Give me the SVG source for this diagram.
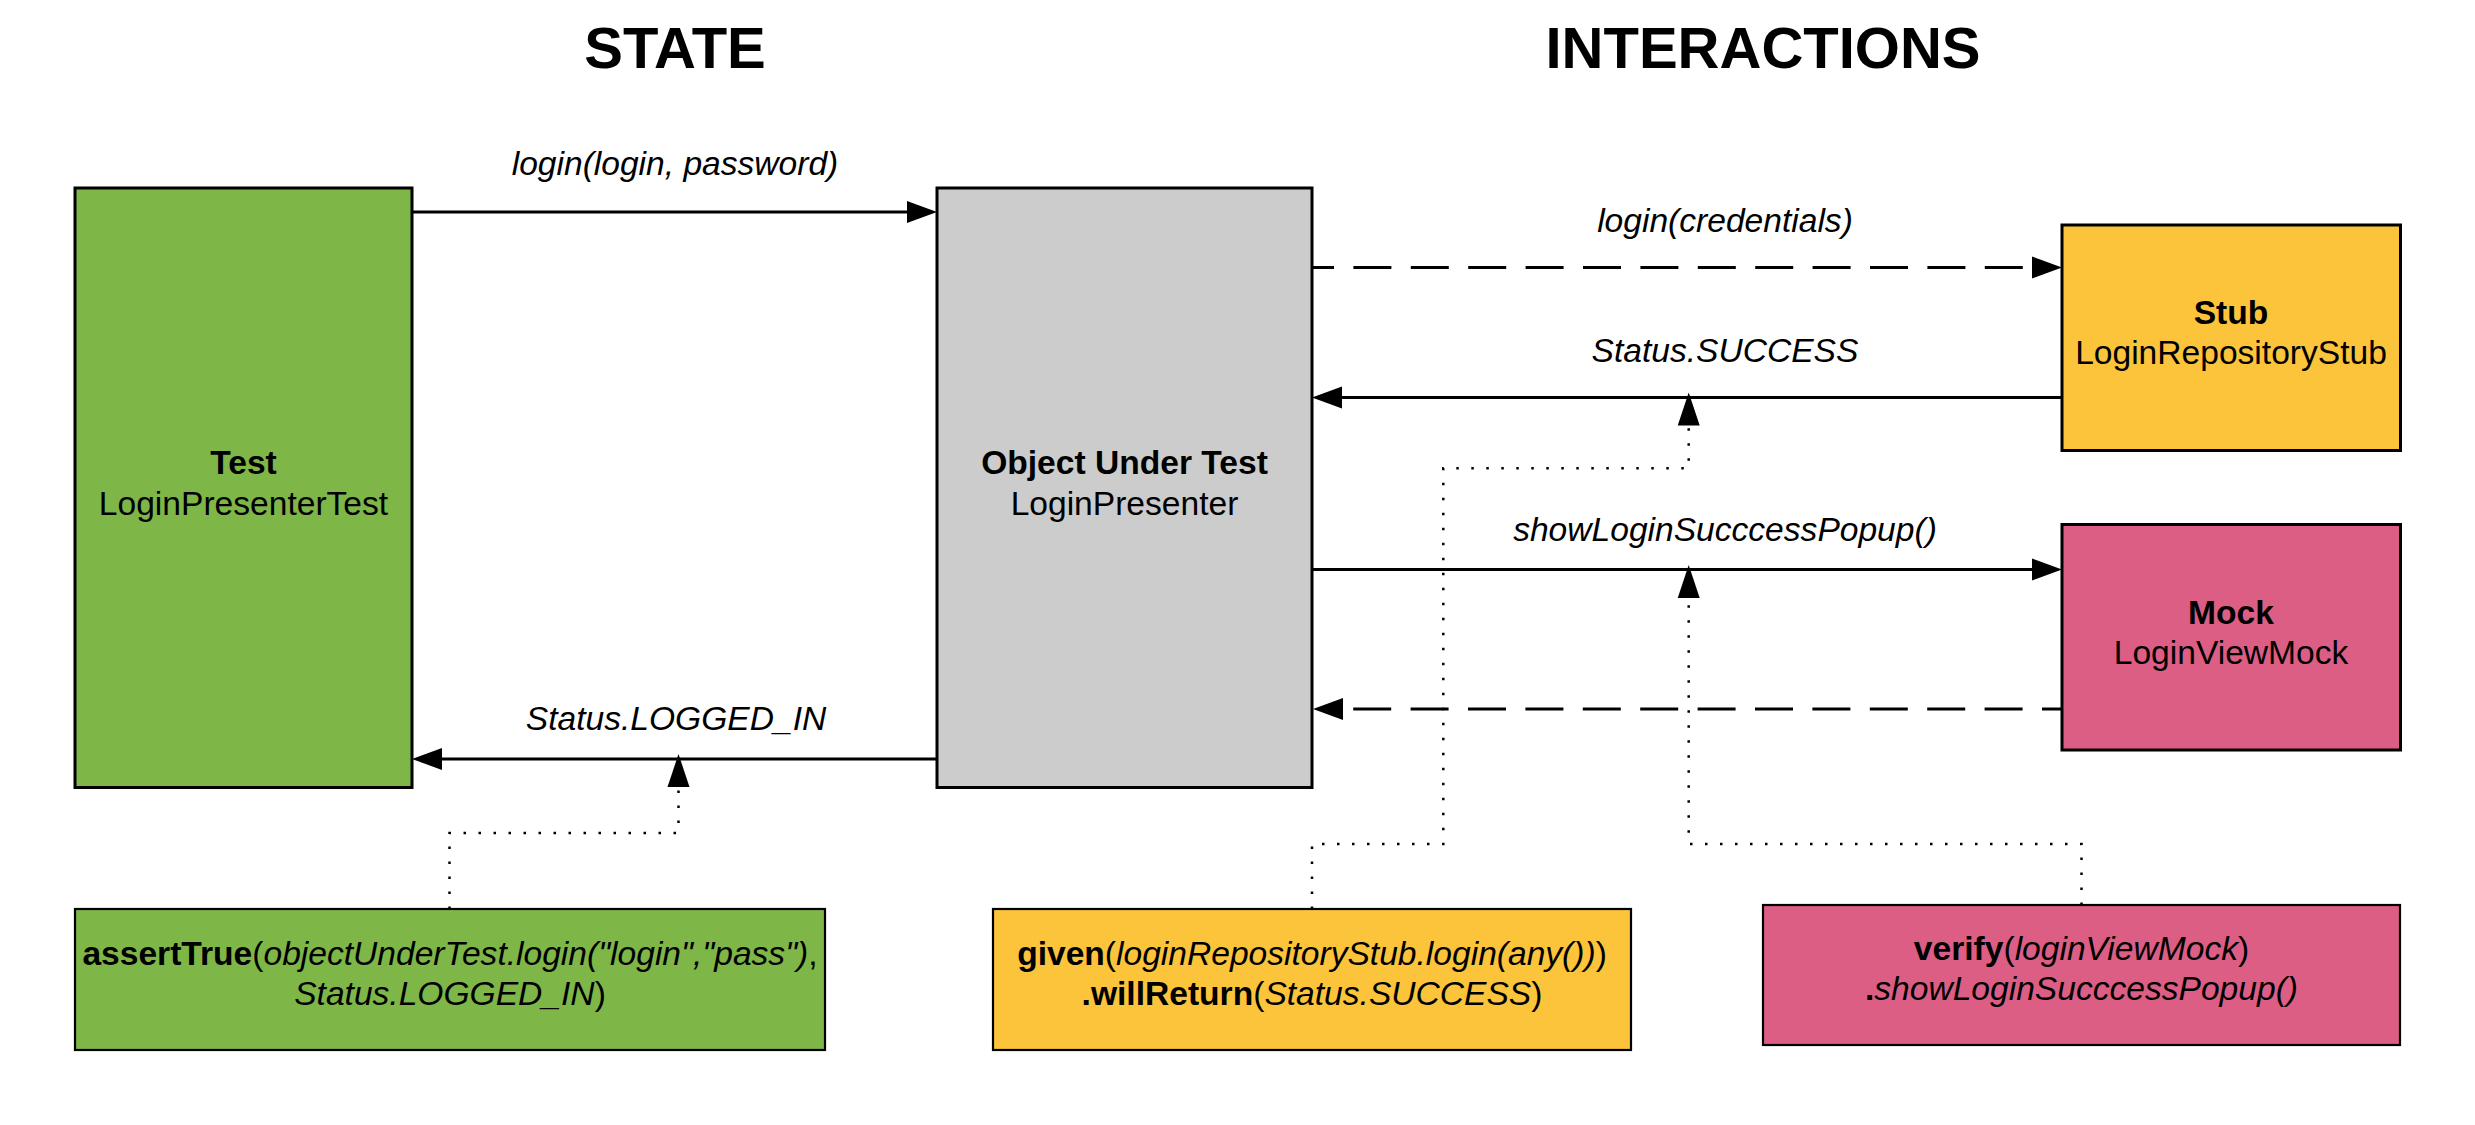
<svg xmlns="http://www.w3.org/2000/svg" width="2475" height="1125" viewBox="0 0 2475 1125">
<style>
text{font-family:"Liberation Sans",Arial,sans-serif;font-size:33.6px;fill:#000;text-anchor:middle}
.title{font-size:58px;font-weight:bold}
.b{font-weight:bold}
.i{font-style:italic}
.box{stroke:#000;stroke-width:3}
.sbox{stroke:#000;stroke-width:2.2}
.green{fill:#7EB648}
.gray{fill:#CCCCCC}
.yellow{fill:#FBC43B}
.pink{fill:#DD5E85}
.solid{fill:none;stroke:#000;stroke-width:3}
.dash{fill:none;stroke:#000;stroke-width:3;stroke-dasharray:38 19.4}
.dot{fill:none;stroke:#000;stroke-width:2.5;stroke-dasharray:2.5 12.5}
</style>
<defs>
<marker id="arr" markerUnits="userSpaceOnUse" markerWidth="30" markerHeight="22" refX="0" refY="11" orient="auto" overflow="visible">
<path d="M0,0 L30,11 L0,22 Z" fill="#000"/>
</marker>
<marker id="arrUp" markerUnits="userSpaceOnUse" markerWidth="33" markerHeight="22" refX="0" refY="11" orient="auto" overflow="visible">
<path d="M0,0 L33,11 L0,22 Z" fill="#000"/>
</marker>
</defs>
<rect width="2475" height="1125" fill="#fff"/>
<text class="title" x="675" y="68">STATE</text>
<text class="title" x="1763" y="68">INTERACTIONS</text>
<g id="connectors">
<path class="solid" d="M412,212 H907" marker-end="url(#arr)"/>
<path class="solid" d="M937,759 H442" marker-end="url(#arr)"/>
<path class="dash" style="stroke-dashoffset:16" d="M1312,267.5 H2032" marker-end="url(#arr)"/>
<path class="solid" d="M2062,397.5 H1342" marker-end="url(#arr)"/>
<path class="solid" d="M1312,569.5 H2032" marker-end="url(#arr)"/>
<path class="dash" style="stroke-dashoffset:18" d="M2062,709 H1343" marker-end="url(#arr)"/>
<path class="dot" d="M449.5,909 V833 H678.5 V787" marker-end="url(#arrUp)"/>
<path class="dot" d="M1312,909 V844 H1443.3 V468.3 H1688.7 V425.5" marker-end="url(#arrUp)"/>
<path class="dot" d="M2081.5,905 V844 H1688.7 V598" marker-end="url(#arrUp)"/>
<text class="i" x="675" y="175">login(login, password)</text>
<text class="i" x="676" y="730">Status.LOGGED_IN</text>
<text class="i" x="1725" y="231.5">login(credentials)</text>
<text class="i" x="1725" y="362">Status.SUCCESS</text>
<text class="i" x="1725" y="541">showLoginSucccessPopup()</text>
</g>
<g id="test">
<rect class="box green" x="75" y="188" width="337" height="599.5"/>
<text x="243.5" y="474" class="b">Test</text>
<text x="243.5" y="514.5">LoginPresenterTest</text>
</g>
<g id="object-under-test">
<rect class="box gray" x="937" y="188" width="375" height="599.5"/>
<text x="1124.5" y="474" class="b">Object Under Test</text>
<text x="1124.5" y="514.5">LoginPresenter</text>
</g>
<g id="stub">
<rect class="box yellow" x="2062" y="225" width="338.5" height="225.5"/>
<text x="2231" y="323.5" class="b">Stub</text>
<text x="2231" y="364">LoginRepositoryStub</text>
</g>
<g id="mock">
<rect class="box pink" x="2062" y="524.5" width="338.5" height="225.5"/>
<text x="2231" y="623.5" class="b">Mock</text>
<text x="2231" y="664">LoginViewMock</text>
</g>
<g id="assert-note">
<rect class="sbox green" x="75" y="909" width="750" height="141"/>
<text x="450" y="965"><tspan class="b">assertTrue</tspan>(<tspan class="i">objectUnderTest.login("login","pass")</tspan>,</text>
<text x="450" y="1005"><tspan class="i">Status.LOGGED_IN</tspan>)</text>
</g>
<g id="given-note">
<rect class="sbox yellow" x="993" y="909" width="638" height="141"/>
<text x="1312" y="965"><tspan class="b">given</tspan>(<tspan class="i">loginRepositoryStub.login(any())</tspan>)</text>
<text x="1312" y="1005"><tspan class="b">.willReturn</tspan>(<tspan class="i">Status.SUCCESS</tspan>)</text>
</g>
<g id="verify-note">
<rect class="sbox pink" x="1763" y="905" width="637" height="140"/>
<text x="2081.5" y="960"><tspan class="b">verify</tspan>(<tspan class="i">loginViewMock</tspan>)</text>
<text x="2081.5" y="1000"><tspan class="b">.</tspan><tspan class="i">showLoginSucccessPopup()</tspan></text>
</g>
</svg>
